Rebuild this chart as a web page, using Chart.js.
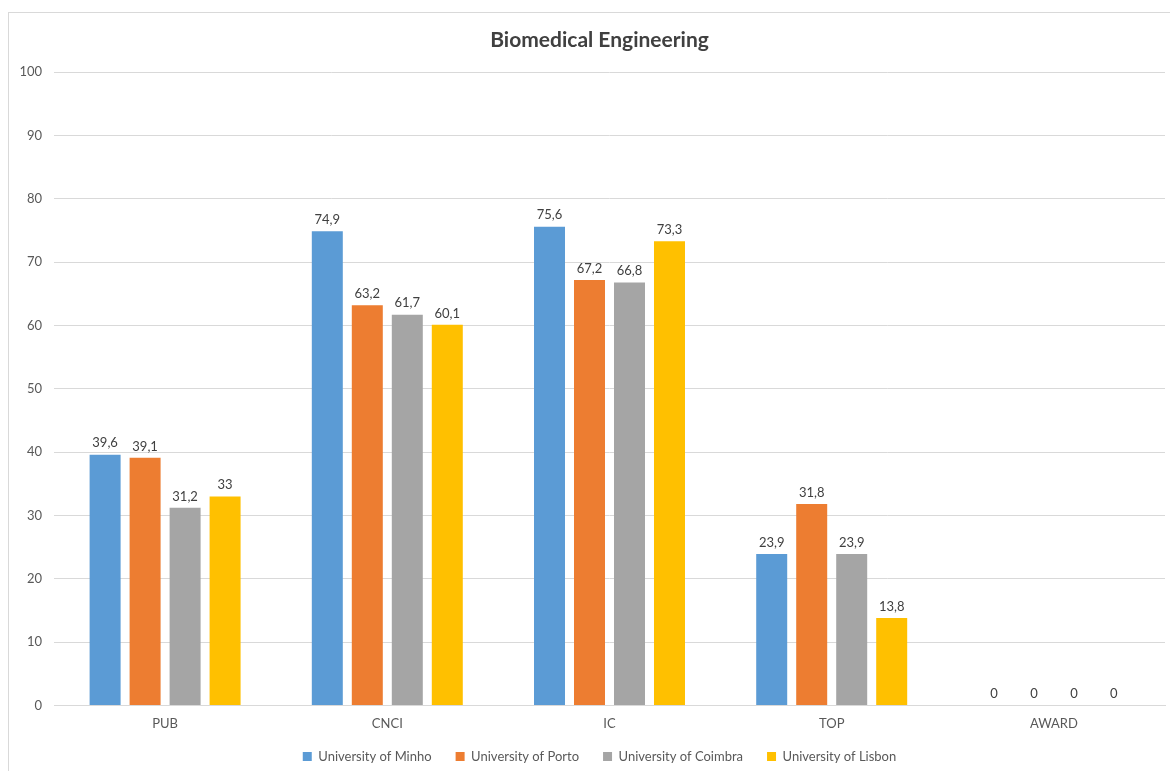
<!DOCTYPE html>
<html><head><meta charset="utf-8">
<script src="https://cdn.jsdelivr.net/npm/chart.js@4/dist/chart.umd.min.js"></script>
<style>html,body{margin:0;padding:0;background:#fff;overflow:hidden;}#wrap{position:relative;width:1170px;height:771px;overflow:hidden;}</style>
</head><body><div id="wrap"><canvas id="c" width="1170" height="771"></canvas></div>
<script>
const categories = ["PUB", "CNCI", "IC", "TOP", "AWARD"];
const seriesNames = ["University of Minho", "University of Porto", "University of Coimbra", "University of Lisbon"];
const minho = [39.6, 74.9, 75.6, 23.9, 0];
const porto = [39.1, 63.2, 67.2, 31.8, 0];
const coimbra = [31.2, 61.7, 66.8, 23.9, 0];
const lisbon = [33, 60.1, 73.3, 13.8, 0];
const colors = ["#5B9BD5", "#ED7D31", "#A5A5A5", "#FFC000"];
const FONT = "Lato, 'Open Sans', sans-serif";

const borderPlugin = {
  id: 'border',
  afterLayout(chart) {
    // widen the label clip boxes so tick labels are not cut
    chart.scales.x.bottom += 20;
    chart.scales.y.left = 0;
  },
  beforeDraw(chart) {
    const ctx = chart.ctx;
    ctx.save();
    ctx.fillStyle = '#fff';
    ctx.fillRect(0, 0, chart.width, chart.height);
    ctx.strokeStyle = '#d9d9d9';
    ctx.lineWidth = 1;
    ctx.strokeRect(8.5, 12.5, chart.width + 20, chart.height + 20);
    ctx.restore();
  }
};
const labelPlugin = {
  id: 'vals',
  afterDatasetsDraw(chart) {
    const ctx = chart.ctx;
    ctx.save();
    ctx.font = "13px " + FONT;
    ctx.fillStyle = '#404040';
    ctx.textAlign = 'center';
    ctx.textBaseline = 'bottom';
    chart.data.datasets.forEach((ds, i) => {
      chart.getDatasetMeta(i).data.forEach((bar, j) => {
        const v = ds.data[j];
        ctx.fillText(String(v).replace('.', ','), bar.x, bar.y - 5);
      });
    });
    ctx.restore();
  }
};

new Chart(document.getElementById('c'), {
  type: 'bar',
  data: {
    labels: categories,
    datasets: [minho, porto, coimbra, lisbon].map((d, i) => ({
      label: seriesNames[i], data: d, backgroundColor: colors[i],
      categoryPercentage: 0.72, barPercentage: 0.775
    }))
  },
  options: {
    responsive: false, animation: false,
    layout: { padding: { left: 34, right: 5, top: 12, bottom: -2 } },
    plugins: {
      title: { display: true, text: 'Biomedical Engineering', color: '#404040',
        font: { family: FONT, size: 21, weight: 'bold' }, padding: { top: 16, bottom: 19 } },
      legend: { position: 'bottom',
        labels: { boxWidth: 9, boxHeight: 9, padding: 24, color: '#595959', font: { family: FONT, size: 13 } } },
      tooltip: { enabled: false }
    },
    scales: {
      x: {
        grid: { display: false, drawTicks: false },
        border: { color: '#d9d9d9' },
        ticks: { color: '#595959', font: { family: FONT, size: 13 }, padding: 11 },
        afterFit(s) { s.height -= 17; }
      },
      y: {
        min: 0, max: 100,
        grid: { color: '#d9d9d9', drawTicks: false },
        border: { display: false },
        ticks: { stepSize: 10, color: '#595959', font: { family: FONT, size: 13 }, padding: 12 },
        afterFit(s) { s.width = 20; }
      }
    }
  },
  plugins: [borderPlugin, labelPlugin]
});
</script></body></html>
